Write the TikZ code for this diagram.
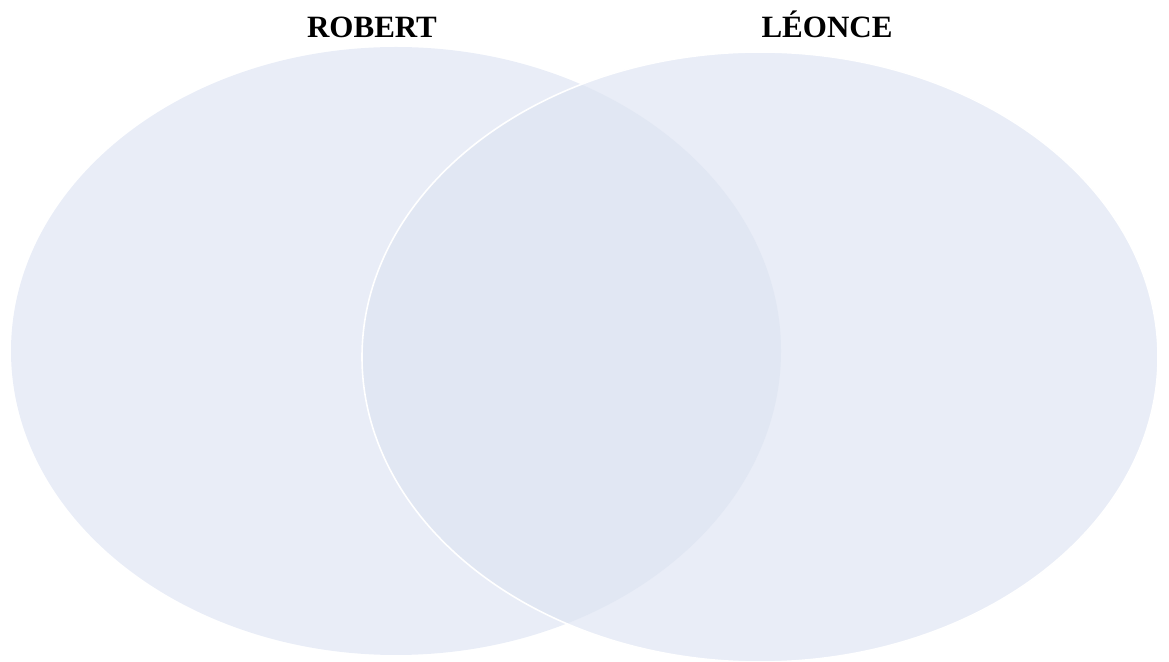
\documentclass[tikz,border=0pt]{standalone}
\usepackage{fontspec}
\setmainfont{Liberation Serif}
\definecolor{vennbase}{RGB}{233,237,247}
\definecolor{vennover}{RGB}{225,231,243}
\tikzset{
  setlabel/.style={font=\fontsize{31}{36}\selectfont\bfseries, inner sep=0pt, anchor=base},
}
\begin{document}
\begin{tikzpicture}[x=1pt,y=1pt]
\useasboundingbox (0,0) rectangle (1169,661);
% left set (ROBERT)
\fill[vennbase] (396,310) ellipse [x radius=385, y radius=304];
% right set (LÉONCE)
\fill[vennbase] (760,304) ellipse [x radius=398, y radius=305];
% overlap
\begin{scope}
  \clip (396,310) ellipse [x radius=385, y radius=304];
  \fill[vennover] (760,304) ellipse [x radius=398, y radius=305];
\end{scope}
\draw[white, line width=1.6pt] (760,304) ellipse [x radius=398, y radius=305];
\node[setlabel] (robert) at (372,623) {ROBERT};
\node[setlabel] (leonce) at (827,623) {LÉONCE};
\end{tikzpicture}
\end{document}
